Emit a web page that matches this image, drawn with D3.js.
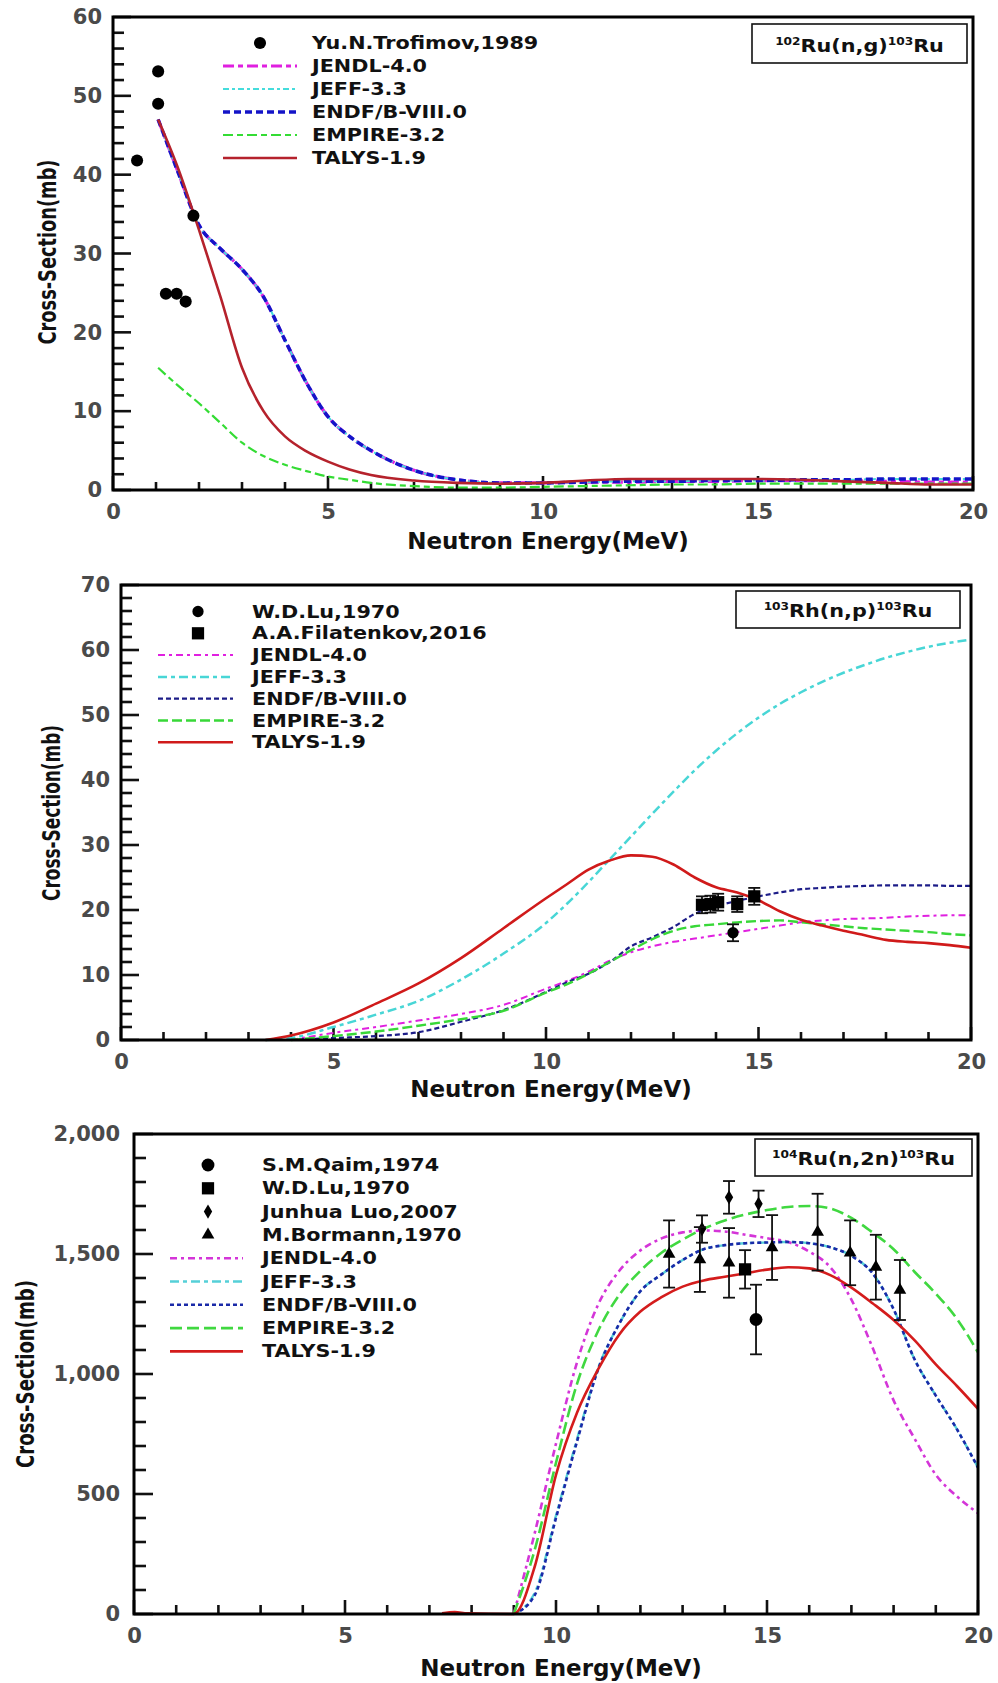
<!DOCTYPE html>
<html>
<head>
<meta charset="utf-8">
<script src="https://cdn.jsdelivr.net/npm/d3@7"></script>
<style>
  body { margin: 0; background: #fff; }
  text { font-family: "DejaVu Sans", Verdana, sans-serif; font-weight: bold; }
</style>
</head>
<body>
<svg id="chart" width="998" height="1683"></svg>
<script>
// ---------- panel 1 : 102Ru(n,g)103Ru ----------
const ngEnergy = [1.05, 1.5, 2, 2.5, 3, 3.5, 4, 4.5, 5, 5.5, 6, 7, 8, 9, 10, 11, 12, 13, 14, 15, 16, 17, 18, 19, 20];
const ngJendl  = [47, 40.5, 33.6, 30.6, 28, 24.5, 19, 13.6, 9.3, 6.8, 5, 2.5, 1.3, 0.9, 0.9, 1.0, 1.0, 1.1, 1.1, 1.2, 1.2, 1.2, 1.1, 1.0, 1.0];
const ngJeff   = [47, 40.5, 33.6, 30.6, 28, 24.5, 19, 13.6, 9.3, 6.8, 5, 2.5, 1.3, 0.9, 0.9, 1.0, 1.1, 1.1, 1.2, 1.2, 1.3, 1.3, 1.4, 1.4, 1.4];
const ngEndf   = [47, 40.5, 33.6, 30.6, 28, 24.5, 19, 13.6, 9.3, 6.8, 5, 2.5, 1.3, 0.9, 0.9, 1.0, 1.1, 1.1, 1.2, 1.2, 1.3, 1.3, 1.4, 1.4, 1.4];
const ngEmpire = [15.5, 13.3, 11, 8.5, 6, 4.3, 3.2, 2.4, 1.7, 1.3, 0.9, 0.5, 0.3, 0.3, 0.4, 0.5, 0.6, 0.7, 0.7, 0.8, 0.8, 0.8, 0.8, 0.8, 0.8];
const ngTalys  = [47, 41, 33, 24.5, 15.5, 10, 6.8, 4.9, 3.6, 2.6, 1.9, 1.2, 0.9, 0.8, 0.9, 1.2, 1.4, 1.4, 1.4, 1.4, 1.3, 1.1, 0.9, 0.7, 0.7];
const ngTrofimovE = [0.56, 1.05, 1.05, 1.23, 1.48, 1.69, 1.87];
const ngTrofimovV = [41.8, 53.1, 49, 24.9, 24.9, 23.9, 34.8];

// ---------- panel 2 : 103Rh(n,p)103Ru ----------
const npEnergy = [3.4, 4, 5, 6, 7, 8, 9, 10, 10.5, 11, 11.5, 12, 12.5, 13, 13.5, 14, 14.5, 15, 15.5, 16, 16.5, 17, 17.5, 18, 18.5, 19, 19.5, 20];
const npJendl  = [null, 0, 1.1, 2, 3, 4, 5.4, 7.9, 9.1, 10.5, 12.2, 13.5, 14.4, 15.1, 15.6, 16.1, 16.6, 17.1, 17.6, 18.1, 18.4, 18.6, 18.7, 18.8, 19, 19.1, 19.2, 19.2];
const npJeff   = [0, 0.3, 2, 3.9, 6, 9.3, 13.3, 18, 21, 24.3, 27.8, 31.3, 34.8, 38.2, 41.5, 44.5, 47.2, 49.6, 51.7, 53.5, 55.1, 56.5, 57.7, 58.8, 59.7, 60.5, 61.1, 61.6];
const npEndf   = [null, 0, 0.3, 0.6, 1.2, 2.8, 4.6, 7.4, 8.9, 10.2, 12, 14.4, 15.8, 17.4, 19.4, 20.6, 21.4, 22.1, 22.7, 23.2, 23.4, 23.6, 23.7, 23.8, 23.8, 23.8, 23.7, 23.7];
const npEmpire = [null, 0, 0.6, 1.3, 2.2, 3.2, 4.5, 7.3, 8.6, 10.2, 12, 13.8, 15.5, 16.8, 17.5, 17.8, 18.1, 18.3, 18.4, 18.1, 17.8, 17.5, 17.2, 17, 16.8, 16.6, 16.3, 16.1];
const npTalys  = [0, 0.7, 2.7, 5.6, 8.7, 12.6, 17.2, 21.8, 24, 26.2, 27.6, 28.4, 28.2, 27, 25, 23.5, 22.7, 21.5, 19.8, 18.5, 17.6, 16.8, 16.1, 15.4, 15.1, 14.9, 14.6, 14.2];
const npLuE = [14.4];
const npLuV = [16.5];
const npLuErr = [1.3];
const npFilatenkovE = [13.67, 13.87, 14.05, 14.5, 14.9];
const npFilatenkovV = [20.8, 20.9, 21.2, 20.9, 22.1];
const npFilatenkovErr = [1.3, 1.3, 1.3, 1.2, 1.3];

// ---------- panel 3 : 104Ru(n,2n)103Ru ----------
const n2nEnergy = [7.3, 7.6, 7.9, 9.0, 9.5, 10, 10.5, 11, 11.5, 12, 12.5, 13, 13.5, 14, 14.5, 15, 15.5, 16, 16.5, 17, 17.5, 18, 18.5, 19, 19.5, 20];
const n2nJendl  = [null, null, null, 0, 340, 710, 1050, 1290, 1430, 1515, 1565, 1590, 1598, 1594, 1580, 1566, 1550, 1510, 1445, 1310, 1110, 890, 730, 580, 490, 420];
const n2nJeff   = [null, null, null, 0, 90, 410, 730, 1025, 1210, 1345, 1415, 1475, 1520, 1537, 1545, 1548, 1550, 1545, 1528, 1492, 1420, 1270, 1060, 910, 770, 610];
const n2nEndf   = [null, null, null, 0, 80, 400, 720, 1020, 1210, 1345, 1415, 1475, 1520, 1537, 1545, 1548, 1550, 1545, 1528, 1492, 1420, 1270, 1060, 910, 770, 610];
const n2nEmpire = [null, null, null, 0, 270, 630, 960, 1180, 1330, 1430, 1505, 1560, 1605, 1640, 1665, 1683, 1696, 1700, 1690, 1650, 1590, 1520, 1425, 1335, 1230, 1090];
const n2nTalys  = [3, 8, 3, 0, 200, 580, 840, 1020, 1165, 1260, 1320, 1364, 1390, 1405, 1420, 1435, 1445, 1440, 1412, 1360, 1295, 1225, 1140, 1040, 950, 855];
const n2nQaimE = [14.74];
const n2nQaimV = [1227];
const n2nQaimErr = [145];
const n2nLuE = [14.48];
const n2nLuV = [1436];
const n2nLuErr = [80];
const n2nLuoE = [13.46, 14.1, 14.8];
const n2nLuoV = [1604, 1736, 1709];
const n2nLuoErr = [57, 68, 55];
const n2nBormannE = [12.68, 13.41, 14.1, 15.12, 16.2, 16.97, 17.58, 18.15];
const n2nBormannV = [1500, 1477, 1463, 1527, 1591, 1505, 1445, 1350];
const n2nBormannErr = [140, 135, 145, 135, 160, 135, 135, 125];

const yTicks1 = [0, 10, 20, 30, 40, 50, 60];
const yTicks2 = [0, 10, 20, 30, 40, 50, 60, 70];
const yTicks3 = [0, 500, 1000, 1500, 2000];
const xTicks = [0, 5, 10, 15, 20];

// zip helpers
const zip = (e, v, err) => e.map((d, i) => ({e: d, v: v[i], err: err ? err[i] : 0}));

const svg = d3.select('#chart');

const names = ['JENDL-4.0', 'JEFF-3.3', 'ENDF/B-VIII.0', 'EMPIRE-3.2', 'TALYS-1.9'];

const panels = [
    {
        left: 113, right: 973, top: 17, bottom: 490, yMax: 60, yTicks: yTicks1, yMinor: 2, fmt: d3.format('d'),
        yMajorLen: 18, yMinorLen: 11, xMajorLen: 14, xMinorLen: 8, labPad: 11,
        title: ['102', 'Ru(n,g)', '103', 'Ru'], box: [752, 24, 215, 39], titleY: 52,
        yTitle: [48, 252, 185], xTitleY: 549,
        legend: {x0: 223, x1: 297, sx: 260, tx: 312, y0: 43, dy: 23},
        exp: [{name: 'Yu.N.Trofimov,1989', sym: 'circle', size: 115, data: zip(ngTrofimovE, ngTrofimovV)}],
        series: [ngJendl, ngJeff, ngEndf, ngEmpire, ngTalys].map(v => zip(ngEnergy, v)),
        styles: [
            {c: '#e01fe0', w: 3.2, dash: '11,4,5,4'},
            {c: '#45dcdc', w: 2, dash: '6,3,3,3'},
            {c: '#1414c8', w: 3.5, dash: '7,4'},
            {c: '#34dc34', w: 2.2, dash: '10,4,6,4'},
            {c: '#b5222c', w: 2.6, dash: null}
        ]
    },
    {
        left: 121, right: 971, top: 585, bottom: 1040, yMax: 70, yTicks: yTicks2, yMinor: 2, fmt: d3.format('d'),
        yMajorLen: 18, yMinorLen: 11, xMajorLen: 13, xMinorLen: 8, labPad: 11,
        title: ['103', 'Rh(n,p)', '103', 'Ru'], box: [736, 591, 224, 37], titleY: 617,
        yTitle: [52, 813, 176], xTitleY: 1097,
        legend: {x0: 158, x1: 233, sx: 198, tx: 252, y0: 611.5, dy: 21.8},
        exp: [
            {name: 'W.D.Lu,1970', sym: 'circle', size: 100, data: zip(npLuE, npLuV, npLuErr)},
            {name: 'A.A.Filatenkov,2016', sym: 'square', size: 150, data: zip(npFilatenkovE, npFilatenkovV, npFilatenkovErr)}
        ],
        series: [npJendl, npJeff, npEndf, npEmpire, npTalys].map(v => zip(npEnergy, v)),
        styles: [
            {c: '#e020e0', w: 2, dash: '7,4,3,4'},
            {c: '#48d6d6', w: 2.5, dash: '9,4,4,4'},
            {c: '#1c1c88', w: 2.2, dash: '5,3'},
            {c: '#38d838', w: 2.4, dash: '10,4'},
            {c: '#d01a1a', w: 2.6, dash: null}
        ]
    },
    {
        left: 134, right: 978, top: 1134, bottom: 1614, yMax: 2000, yTicks: yTicks3, yMinor: 100, fmt: d3.format(','),
        yMajorLen: 19, yMinorLen: 12, xMajorLen: 14, xMinorLen: 9, labPad: 14,
        title: ['104', 'Ru(n,2n)', '103', 'Ru'], box: [755, 1139, 217, 37], titleY: 1165,
        yTitle: [26, 1374, 188], xTitleY: 1676,
        legend: {x0: 170, x1: 243, sx: 208, tx: 262, y0: 1165, dy: 23.3},
        exp: [
            {name: 'S.M.Qaim,1974', sym: 'circle', size: 130, data: zip(n2nQaimE, n2nQaimV, n2nQaimErr)},
            {name: 'W.D.Lu,1970', sym: 'square', size: 150, data: zip(n2nLuE, n2nLuV, n2nLuErr)},
            {name: 'Junhua Luo,2007', sym: 'diamond', size: 60, data: zip(n2nLuoE, n2nLuoV, n2nLuoErr)},
            {name: 'M.Bormann,1970', sym: 'triangle', size: 70, data: zip(n2nBormannE, n2nBormannV, n2nBormannErr)}
        ],
        series: [n2nJendl, n2nJeff, n2nEndf, n2nEmpire, n2nTalys].map(v => zip(n2nEnergy, v)),
        styles: [
            {c: '#d435d8', w: 2.6, dash: '7,4,3,4'},
            {c: '#55d0d8', w: 2.4, dash: '9,4,4,4'},
            {c: '#1a2aa8', w: 2.6, dash: '4,3'},
            {c: '#40d840', w: 2.6, dash: '12,5'},
            {c: '#d41c1c', w: 2.6, dash: null}
        ]
    }
];

const symbolTypes = {circle: d3.symbolCircle, square: d3.symbolSquare, diamond: d3.symbolDiamond, triangle: d3.symbolTriangle};

panels.forEach(p => {
    const g = svg.append('g');
    const x = d3.scaleLinear().domain([0, 20]).range([p.left, p.right]);
    const y = d3.scaleLinear().domain([0, p.yMax]).range([p.bottom, p.top]);

    // tick marks, pointing into the plot
    const xMinor = d3.range(1, 20).filter(v => v % 5 !== 0);
    const yMinor = d3.range(p.yMinor, p.yMax, p.yMinor).filter(v => !p.yTicks.includes(v));
    const ticks = g.append('g').attr('stroke', '#111').attr('stroke-width', 2.6);
    const xt = [...xTicks.map(v => [v, p.xMajorLen]), ...xMinor.map(v => [v, p.xMinorLen])];
    ticks.selectAll(null).data(xt).enter().append('line')
        .attr('x1', d => x(d[0])).attr('x2', d => x(d[0]))
        .attr('y1', p.bottom).attr('y2', d => p.bottom - d[1]);
    const yt = [...p.yTicks.map(v => [v, p.yMajorLen]), ...yMinor.map(v => [v, p.yMinorLen])];
    ticks.selectAll(null).data(yt).enter().append('line')
        .attr('y1', d => y(d[0])).attr('y2', d => y(d[0]))
        .attr('x1', p.left).attr('x2', d => p.left + d[1]);

    // tick labels through the axis generators
    g.append('g')
        .attr('transform', `translate(0,${p.bottom})`)
        .call(d3.axisBottom(x).tickValues(xTicks).tickSize(0).tickPadding(14).tickFormat(d3.format('d')))
        .call(a => a.select('.domain').remove());
    g.append('g')
        .attr('transform', `translate(${p.left},0)`)
        .call(d3.axisLeft(y).tickValues(p.yTicks).tickSize(0).tickPadding(p.labPad).tickFormat(p.fmt))
        .call(a => a.select('.domain').remove());
    g.selectAll('.tick text').attr('fill', '#4a4a4a').style('font-size', '21px')
        .style('font-family', '"DejaVu Sans", sans-serif').style('font-weight', 'bold');

    // curves
    const line = d3.line()
        .defined(d => d.v !== null)
        .x(d => x(d.e)).y(d => y(d.v))
        .curve(d3.curveMonotoneX);
    p.series.forEach((s, i) => {
        const st = p.styles[i];
        g.append('path')
            .datum(s)
            .attr('fill', 'none')
            .attr('stroke', st.c)
            .attr('stroke-width', st.w)
            .attr('stroke-dasharray', st.dash)
            .attr('d', line);
    });

    // experimental points with error bars
    p.exp.forEach(ex => {
        const withErr = ex.data.filter(d => d.err > 0);
        g.selectAll(null).data(withErr).enter().append('line')
            .attr('x1', d => x(d.e)).attr('x2', d => x(d.e))
            .attr('y1', d => y(d.v - d.err)).attr('y2', d => y(d.v + d.err))
            .attr('stroke', '#111').attr('stroke-width', 1.8);
        [-1, 1].forEach(k => {
            g.selectAll(null).data(withErr).enter().append('line')
                .attr('x1', d => x(d.e) - 6).attr('x2', d => x(d.e) + 6)
                .attr('y1', d => y(d.v + k * d.err)).attr('y2', d => y(d.v + k * d.err))
                .attr('stroke', '#111').attr('stroke-width', 1.8);
        });
        g.selectAll(null).data(ex.data).enter().append('path')
            .attr('transform', d => `translate(${x(d.e)},${y(d.v)})`)
            .attr('d', d3.symbol().type(symbolTypes[ex.sym]).size(ex.size))
            .attr('fill', '#000');
    });

    // frame
    g.append('rect')
        .attr('x', p.left).attr('y', p.top)
        .attr('width', p.right - p.left).attr('height', p.bottom - p.top)
        .attr('fill', 'none').attr('stroke', '#000').attr('stroke-width', 3);

    // legend
    const L = p.legend;
    let row = 0;
    const legText = (label, yy) => g.append('text')
        .attr('transform', `translate(${L.tx},${yy + 6}) scale(1.22,1)`)
        .style('font-size', '17px').attr('fill', '#111').text(label);
    p.exp.forEach(ex => {
        const yy = L.y0 + row * L.dy;
        g.append('path')
            .attr('transform', `translate(${L.sx},${yy})`)
            .attr('d', d3.symbol().type(symbolTypes[ex.sym]).size(ex.size))
            .attr('fill', '#000');
        legText(ex.name, yy);
        row++;
    });
    names.forEach((n, i) => {
        const yy = L.y0 + row * L.dy;
        const st = p.styles[i];
        g.append('line')
            .attr('x1', L.x0).attr('x2', L.x1).attr('y1', yy).attr('y2', yy)
            .attr('stroke', st.c).attr('stroke-width', st.w).attr('stroke-dasharray', st.dash);
        legText(n, yy);
        row++;
    });

    // reaction box
    const [bx, by, bw, bh] = p.box;
    g.append('rect').attr('x', bx).attr('y', by).attr('width', bw).attr('height', bh)
        .attr('fill', '#fff').attr('stroke', '#111').attr('stroke-width', 1.6);
    const t = g.append('text')
        .attr('transform', `translate(${bx + bw / 2},${p.titleY}) scale(1.22,1)`)
        .attr('text-anchor', 'middle').style('font-size', '17px').attr('fill', '#111');
    p.title.forEach((part, i) => {
        const sup = i % 2 === 0;
        t.append('tspan').text(part)
            .style('font-size', sup ? '10px' : '17px')
            .attr('dy', sup ? -7 : 7);
    });

    // axis titles
    g.append('text')
        .attr('x', (p.left + p.right) / 2 + 5).attr('y', p.xTitleY)
        .attr('text-anchor', 'middle').style('font-size', '23px').attr('fill', '#111')
        .text('Neutron Energy(MeV)');
    const [tx, ty, tl] = p.yTitle;
    g.append('text')
        .attr('transform', `translate(${tx + 8},${ty}) rotate(-90)`)
        .attr('text-anchor', 'middle')
        .attr('textLength', tl).attr('lengthAdjust', 'spacingAndGlyphs')
        .style('font-family', '"Liberation Sans Narrow", "DejaVu Sans Condensed", sans-serif')
        .style('font-size', '24px').attr('fill', '#111')
        .text('Cross-Section(mb)');
});
</script>
</body>
</html>
